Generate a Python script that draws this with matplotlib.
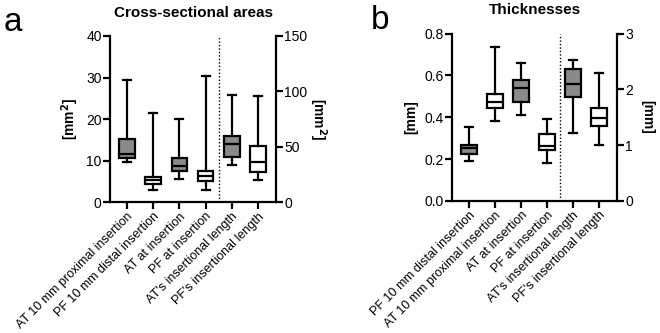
import matplotlib.pyplot as plt

plt.rcParams['font.family'] = ['Liberation Sans', 'DejaVu Sans']

##### DATA #####

# Cross-sectional areas (left scale mm2 for first four, right scale for the last two)
csaLabels = ["AT 10 mm proximal insertion", "PF 10 mm distal insertion",
             "AT at insertion", "PF at insertion",
             "AT's insertional length", "PF's insertional length"]
csaWhisLo = [9.6, 2.9, 5.5, 2.8, 33.4, 19.9]
csaQ1     = [10.6, 4.3, 7.55, 5.2, 40.9, 27.1]
csaMed    = [11.6, 5.3, 8.75, 6.3, 52.4, 35.8]
csaQ3     = [15.1, 6.1, 10.6, 7.55, 59.6, 50.6]
csaWhisHi = [29.4, 21.5, 19.9, 30.4, 96.7, 95.7]
csaFilled = [True, False, True, False, True, False]

# Thicknesses (left scale mm for first four, right scale for the last two)
thkLabels = ["PF 10 mm distal insertion", "AT 10 mm proximal insertion",
             "AT at insertion", "PF at insertion",
             "AT's insertional length", "PF's insertional length"]
thkWhisLo = [0.192, 0.381, 0.411, 0.182, 1.21, 1.00]
thkQ1     = [0.224, 0.442, 0.472, 0.245, 1.87, 1.35]
thkMed    = [0.254, 0.475, 0.541, 0.261, 2.10, 1.49]
thkQ3     = [0.269, 0.509, 0.576, 0.320, 2.36, 1.66]
thkWhisHi = [0.352, 0.736, 0.659, 0.392, 2.52, 2.30]
thkFilled = [True, False, True, False, True, False]

GRAY = "#8a8a8a"
LW = 1.6


def drawPanel(fig, rect, labels, lo, q1, med, q3, hi, filled,
              leftLim, leftTicks, rightLim, rightTicks, leftLab, rightLab,
              title, letter, letterX, fmt):
    ax = fig.add_axes(rect)
    ax2 = ax.twinx()
    for i in range(len(labels)):
        # first four boxes on the left scale, last two on the right scale
        target = ax if i < 4 else ax2
        stats = [{"whislo": lo[i], "q1": q1[i], "med": med[i],
                  "q3": q3[i], "whishi": hi[i], "fliers": []}]
        target.bxp(stats, positions=[i + 1], widths=0.6,
                   patch_artist=True, showfliers=False,
                   boxprops=dict(facecolor=GRAY if filled[i] else "white",
                                 edgecolor="black", linewidth=LW),
                   medianprops=dict(color="black", linewidth=LW),
                   whiskerprops=dict(color="black", linewidth=LW),
                   capprops=dict(color="black", linewidth=LW),
                   capwidths=0.3)
    ax.set_xlim(0.35, 6.69)
    ax.set_ylim(*leftLim)
    ax2.set_ylim(*rightLim)
    ax.set_yticks(leftTicks)
    ax.set_yticklabels([fmt(t) for t in leftTicks], fontsize=10)
    ax2.set_yticks(rightTicks)
    ax2.set_yticklabels([str(t) for t in rightTicks], fontsize=10)
    ax.set_xticks(range(1, 7))
    ax.set_xticklabels(labels, rotation=45, ha="right", rotation_mode="anchor",
                       fontsize=9)
    ax.axvline(4.5, color="black", ls=(0, (1, 1.5)), lw=1)

    for a in (ax, ax2):
        a.spines["top"].set_visible(False)
        for s in a.spines.values():
            s.set_linewidth(LW)
        a.tick_params(width=LW, length=5, pad=1)
    ax.spines["right"].set_visible(False)
    ax2.spines["left"].set_visible(False)
    ax2.spines["bottom"].set_visible(False)

    ax.set_ylabel(leftLab, fontsize=10, fontweight="bold", labelpad=4)
    ax2.set_ylabel(rightLab, fontsize=10, fontweight="bold", rotation=270,
                   labelpad=15)
    ax.set_title(title, fontsize=11, fontweight="bold", pad=14)
    fig.text(letterX, rect[1] + rect[3] + 0.04, letter,
             fontsize=24, va="center")
    return ax


fig = plt.figure(figsize=(6.6, 3.33), dpi=100)

drawPanel(fig, [0.1667, 0.393, 0.2515, 0.499], csaLabels,
          csaWhisLo, csaQ1, csaMed, csaQ3, csaWhisHi, csaFilled,
          (0, 40), [0, 10, 20, 30, 40], (0, 150), [0, 50, 100, 150],
          "[mm$^\\mathbf{2}$]", "[mm$^\\mathbf{2}$]",
          "Cross-sectional areas", "a", 0.006, lambda t: str(t))

drawPanel(fig, [0.6848, 0.397, 0.2500, 0.502], thkLabels,
          thkWhisLo, thkQ1, thkMed, thkQ3, thkWhisHi, thkFilled,
          (0, 0.8), [0.0, 0.2, 0.4, 0.6, 0.8], (0, 3), [0, 1, 2, 3],
          "[mm]", "[mm]",
          "Thicknesses", "b", 0.562, lambda t: f"{t:.1f}")

fig.savefig("out.png", dpi=100)
